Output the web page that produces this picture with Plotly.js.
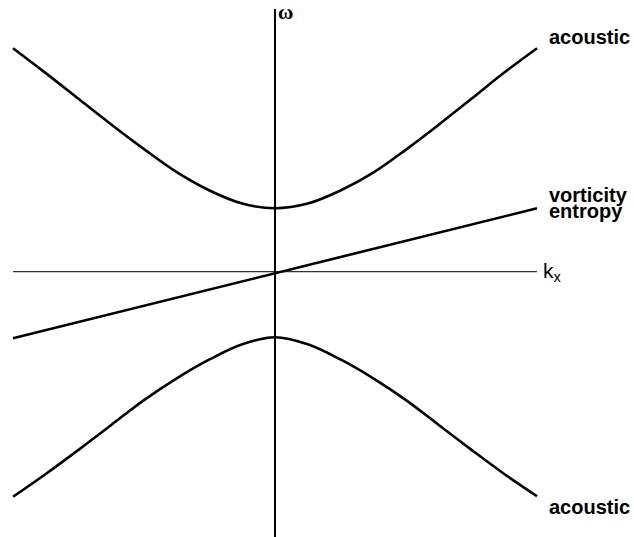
<!DOCTYPE html>
<html>
<head>
<meta charset="utf-8">
<script src="https://cdn.plot.ly/plotly-3.0.1.min.js"></script>
<style>
html,body{margin:0;padding:0;background:#fff;}
#chart{width:634px;height:537px;}
</style>
</head>
<body>
<div id="chart"></div>
<script>
// Wavenumber samples (k_x) and branch values (omega)
const kGrid = [-1, -0.875, -0.75, -0.625, -0.5, -0.375, -0.25, -0.125, 0, 0.125, 0.25, 0.375, 0.5, 0.625, 0.75, 0.875, 1];
const acousticUpper = [0.853, 0.758, 0.66, 0.562, 0.468, 0.38, 0.31, 0.26, 0.242, 0.26, 0.31, 0.378, 0.466, 0.561, 0.66, 0.76, 0.853];
const acousticLower = [-0.859, -0.772, -0.68, -0.585, -0.49, -0.407, -0.335, -0.277, -0.25, -0.277, -0.335, -0.407, -0.49, -0.585, -0.68, -0.772, -0.857];
const vortK = [-1, 1];
const vortOmega = [-0.254, 0.242];
const kAxisK = [-1, 1];
const kAxisOmega = [0, 0];
const wAxisK = [0, 0];
const wAxisOmega = [1.003, -1.03];

const labels = {
  acousticTop: "acoustic",
  acousticBottom: "acoustic",
  vorticity: "vorticity",
  entropy: "entropy",
  kx: "k<sub>x</sub>",
  omega: "ω"
};

const curveLine = {color: "#000", width: 2.6, shape: "spline", smoothing: 1};

const traces = [
  {x: kAxisK, y: kAxisOmega, mode: "lines", line: {color: "#333", width: 1.2}, hoverinfo: "skip"},
  {x: wAxisK, y: wAxisOmega, mode: "lines", line: {color: "#000", width: 2}, hoverinfo: "skip"},
  {x: kGrid, y: acousticUpper, mode: "lines", line: curveLine, hoverinfo: "skip"},
  {x: kGrid, y: acousticLower, mode: "lines", line: curveLine, hoverinfo: "skip"},
  {x: vortK, y: vortOmega, mode: "lines", line: {color: "#000", width: 2.6}, hoverinfo: "skip"}
];

const boldFont = {family: "Liberation Sans, Arial, sans-serif", size: 20, color: "#000"};

const layout = {
  width: 634, height: 537,
  margin: {l: 0, r: 0, t: 0, b: 0},
  paper_bgcolor: "#fff", plot_bgcolor: "#fff",
  showlegend: false,
  xaxis: {range: [-1.0496, 1.3702], visible: false, fixedrange: true},
  yaxis: {range: [-1.0126, 1.037], visible: false, fixedrange: true},
  annotations: [
    {x: 1.038, y: 0.895, text: "<b>" + labels.acousticTop + "</b>", showarrow: false, xanchor: "left", yanchor: "middle", font: boldFont},
    {x: 1.04, y: -0.897, text: "<b>" + labels.acousticBottom + "</b>", showarrow: false, xanchor: "left", yanchor: "middle", font: boldFont},
    {x: 1.04, y: 0.293, text: "<b>" + labels.vorticity + "</b>", showarrow: false, xanchor: "left", yanchor: "middle", font: boldFont},
    {x: 1.04, y: 0.233, text: "<b>" + labels.entropy + "</b>", showarrow: false, xanchor: "left", yanchor: "middle", font: boldFont},
    {x: 1.016, y: 0.0, text: labels.kx, showarrow: false, xanchor: "left", yanchor: "middle", font: {family: "Liberation Sans, Arial, sans-serif", size: 21, color: "#000"}},
    {x: 0.004, y: 0.99, text: "<b>" + labels.omega + "</b>", showarrow: false, xanchor: "left", yanchor: "middle", font: {family: "Liberation Serif, Times New Roman, serif", size: 21, color: "#000"}}
  ]
};

Plotly.newPlot("chart", traces, layout, {displayModeBar: false, staticPlot: true});
</script>
</body>
</html>
